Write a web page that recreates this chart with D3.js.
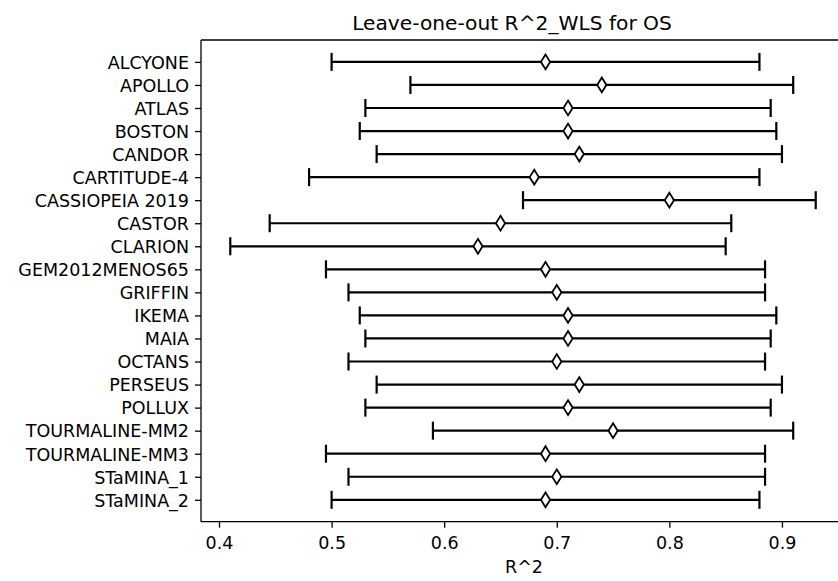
<!DOCTYPE html>
<html>
<head>
<meta charset="utf-8">
<script src="https://cdn.jsdelivr.net/npm/d3@7"></script>
<style>
  html, body { margin: 0; padding: 0; background: #fff; }
  svg { display: block; font-family: "DejaVu Sans", sans-serif; }
</style>
</head>
<body>
<script>
// data
const models = ["ALCYONE", "APOLLO", "ATLAS", "BOSTON", "CANDOR", "CARTITUDE-4",
  "CASSIOPEIA 2019", "CASTOR", "CLARION", "GEM2012MENOS65", "GRIFFIN", "IKEMA",
  "MAIA", "OCTANS", "PERSEUS", "POLLUX", "TOURMALINE-MM2", "TOURMALINE-MM3",
  "STaMINA_1", "STaMINA_2"];
const r2 =    [0.69, 0.74, 0.71, 0.71, 0.72, 0.68, 0.80, 0.65, 0.63, 0.69,
               0.70, 0.71, 0.71, 0.70, 0.72, 0.71, 0.75, 0.69, 0.70, 0.69];
const lower = [0.50, 0.57, 0.53, 0.525, 0.54, 0.48, 0.67, 0.445, 0.41, 0.495,
               0.515, 0.525, 0.53, 0.515, 0.54, 0.53, 0.59, 0.495, 0.515, 0.50];
const upper = [0.88, 0.91, 0.89, 0.895, 0.90, 0.88, 0.93, 0.855, 0.85, 0.885,
               0.885, 0.895, 0.89, 0.885, 0.90, 0.89, 0.91, 0.885, 0.885, 0.88];
const xTicks = [0.4, 0.5, 0.6, 0.7, 0.8, 0.9];

const width = 838, height = 581;
// axes box; the right spine falls outside the picture
const axL = 201, axT = 40, axB = 521.7, axR = 845;
const fs = 17.5, tickLen = 6;

const rows = models.map((m, i) => ({ name: m, v: r2[i], lo: lower[i], hi: upper[i] }));

const svg = d3.select("body").append("svg")
  .attr("width", width).attr("height", height);

// matplotlib-like 5% margins
const xmin = d3.min(lower), xmax = d3.max(upper);
const pad = (xmax - xmin) * 0.05;
const x = d3.scaleLinear().domain([xmin - pad, xmax + pad]).range([axL, axR]);
const y = d3.scalePoint().domain(models).range([axT, axB]).padding(0.95);

// axes
const xAxis = svg.append("g")
  .attr("transform", `translate(0,${axB})`)
  .call(d3.axisBottom(x).tickValues(xTicks).tickFormat(d3.format(".1f"))
    .tickSize(tickLen).tickSizeOuter(0));
const yAxis = svg.append("g")
  .attr("transform", `translate(${axL},0)`)
  .call(d3.axisLeft(y).tickSize(tickLen).tickSizeOuter(0).tickPadding(6));

[xAxis, yAxis].forEach(g => {
  g.select(".domain").remove();
  g.selectAll(".tick line").attr("stroke", "#000").attr("stroke-width", 1.3);
  g.selectAll(".tick text").attr("fill", "#000")
    .style("font-family", "'DejaVu Sans', sans-serif").style("font-size", fs + "px");
});
xAxis.selectAll(".tick text").attr("y", 27.3).attr("dy", 0);
yAxis.selectAll(".tick text").attr("dy", "0.36em");

// spines
const spines = svg.append("g").attr("stroke", "#000").attr("stroke-width", 1.3).attr("fill", "none");
spines.append("line").attr("x1", axL).attr("x2", axL).attr("y1", axT).attr("y2", axB);
spines.append("line").attr("x1", axL).attr("x2", axR).attr("y1", axT).attr("y2", axT);
spines.append("line").attr("x1", axL).attr("x2", axR).attr("y1", axB).attr("y2", axB);

// error bars
const bars = svg.append("g").attr("stroke", "#000").attr("stroke-width", 2.2);
const cap = 9;
bars.selectAll("line.err").data(rows).join("line").attr("class", "err")
  .attr("x1", d => x(d.lo)).attr("x2", d => x(d.hi))
  .attr("y1", d => y(d.name)).attr("y2", d => y(d.name));
bars.selectAll("line.capl").data(rows).join("line").attr("class", "capl")
  .attr("x1", d => x(d.lo)).attr("x2", d => x(d.lo))
  .attr("y1", d => y(d.name) - cap).attr("y2", d => y(d.name) + cap);
bars.selectAll("line.caph").data(rows).join("line").attr("class", "caph")
  .attr("x1", d => x(d.hi)).attr("x2", d => x(d.hi))
  .attr("y1", d => y(d.name) - cap).attr("y2", d => y(d.name) + cap);

// thin diamond markers
const dh = 7.4, dw = 4.6;
svg.append("g").selectAll("path").data(rows).join("path")
  .attr("transform", d => `translate(${x(d.v)},${y(d.name)})`)
  .attr("d", `M0,${-dh}L${dw},0L0,${dh}L${-dw},0Z`)
  .attr("fill", "#fff").attr("stroke", "#000").attr("stroke-width", 1.8);

// title and x label
svg.append("text").attr("x", 512).attr("y", 30).attr("text-anchor", "middle")
  .style("font-size", "20.2px").attr("fill", "#000")
  .text("Leave-one-out R^2_WLS for OS");
svg.append("text").attr("x", 524).attr("y", 573).attr("text-anchor", "middle")
  .style("font-size", fs + "px").attr("fill", "#000")
  .text("R^2");
</script>
</body>
</html>
